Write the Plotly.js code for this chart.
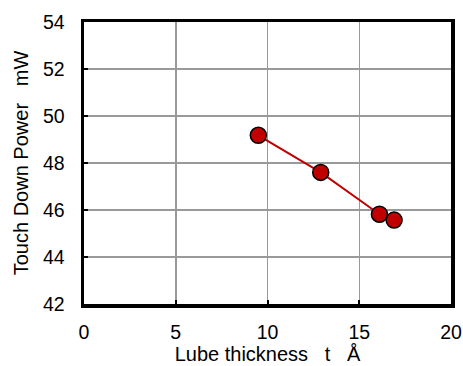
<!DOCTYPE html>
<html><head><meta charset="utf-8">
<script src="https://cdn.plot.ly/plotly-3.0.1.min.js"></script>
<style>body{margin:0;background:#fff}#c{width:463px;height:366px}</style>
</head><body><div id="c"></div>
<script>
const thickness = [9.5, 12.9, 16.1, 16.9];
const power = [49.18, 47.6, 45.82, 45.57];
const xTicks = [0, 5, 10, 15, 20];
const yTicks = [42, 44, 46, 48, 50, 52, 54];

const FONT = 'Liberation Sans, Arial, sans-serif';
const trace = {
  x: thickness, y: power, type: 'scatter', mode: 'lines+markers',
  line: {color: '#C00000', width: 2},
  marker: {size: 16, color: '#C00000', line: {color: '#000', width: 1.5}},
  hoverinfo: 'none'
};
const axisCommon = {
  showline: true, linecolor: '#000', linewidth: 3.5, mirror: true,
  showgrid: true, gridcolor: '#999', gridwidth: 1.5,
  zeroline: false, ticks: 'inside', ticklen: 4, tickwidth: 2, tickcolor: '#000',
  tickfont: {family: FONT, size: 19.5, color: '#000'}
};
const layout = {
  width: 463, height: 366,
  margin: {l: 84, r: 12, t: 22, b: 62},
  paper_bgcolor: '#fff', plot_bgcolor: '#fff',
  showlegend: false,
  xaxis: Object.assign({}, axisCommon, {
    range: [0, 20], tickvals: xTicks, ticktext: xTicks.map(String),
    ticklabelstandoff: 8,
    title: {text: 'Lube thickness\u00a0\u00a0\u00a0t\u00a0\u00a0\u00a0Å', font: {family: FONT, size: 20, color: '#000'}, standoff: 6}
  }),
  yaxis: Object.assign({}, axisCommon, {
    range: [42, 54], tickvals: yTicks, ticktext: yTicks.map(String),
    ticklabelstandoff: 12,
    title: {text: 'Touch Down Power\u00a0\u00a0\u00a0mW', font: {family: FONT, size: 20, color: '#000'}, standoff: 10}
  })
};
Plotly.newPlot('c', [trace], layout, {displayModeBar: false, staticPlot: true});
</script></body></html>
